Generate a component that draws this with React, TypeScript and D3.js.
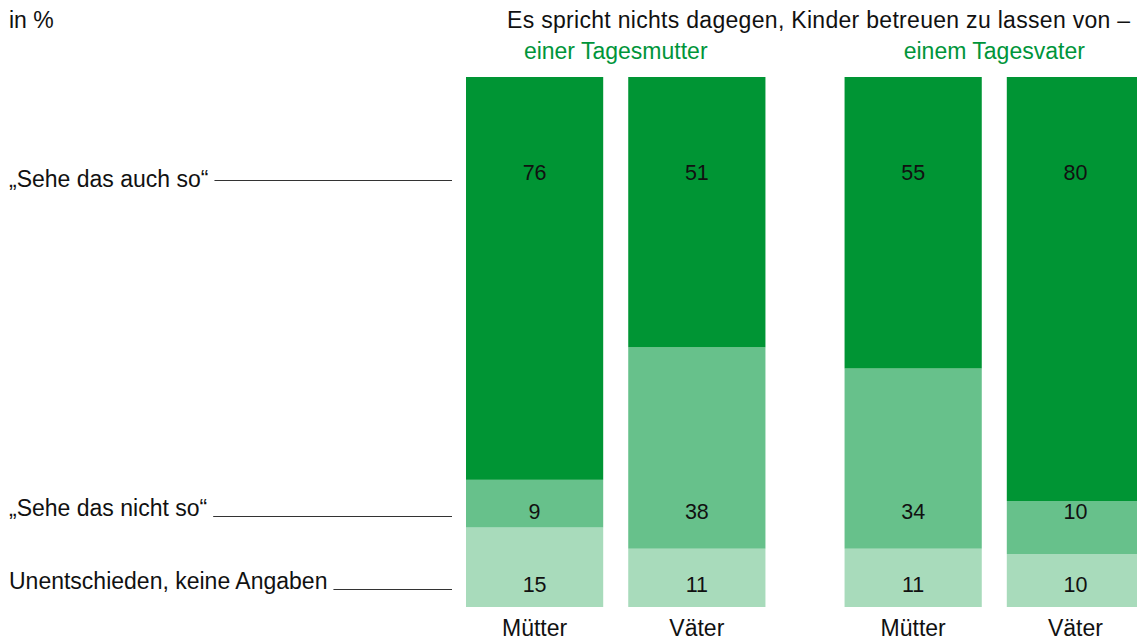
import { useEffect, useRef } from 'react';
import * as d3 from 'd3';

const groups = ['einer Tagesmutter', 'einem Tagesvater'];
const respondents = ['Mütter', 'Väter'];
const answers = ['„Sehe das auch so“', '„Sehe das nicht so“', 'Unentschieden, keine Angaben'];
const agree = [76, 51, 55, 80];
const disagree = [9, 38, 34, 10];
const undecided = [15, 11, 11, 10];

const title = 'Es spricht nichts dagegen, Kinder betreuen zu lassen von –';
const unitLabel = 'in %';

const width = 1137;
const height = 642;
const font = '"Liberation Sans", Arial, sans-serif';
const fontSize = 23;
const numSize = 21.5;

const colors = ['#009534', '#67c18b', '#a8dbbb'];
const titleGreen = '#00953a';

interface Row {
  group: string
  who: string
  agree: number
  disagree: number
  undecided: number
}

const App = (): JSX.Element => {
  const svgRef = useRef<SVGSVGElement>(null);

  useEffect(() => {
    const svg = d3.select(svgRef.current);
    svg.selectAll('*').remove();

    const rows: Row[] = agree.map((_v, i) => ({
      group: groups[Math.floor(i / 2)],
      who: respondents[i % 2],
      agree: agree[i],
      disagree: disagree[i],
      undecided: undecided[i],
    }));

    const x0 = d3.scaleBand<string>().domain(groups).range([466, 1144]).paddingInner(79 / 378);
    const x1 = d3.scaleBand<string>().domain(respondents).range([0, x0.bandwidth()]).paddingInner(25 / 162);
    const y = d3.scaleLinear().domain([0, 100]).range([607, 77]);

    const keys = ['undecided', 'disagree', 'agree'];
    const stacked = d3.stack<Row>().keys(keys)(rows);

    // answer rows: leader line y and number label baseline
    const lineY = [180, 516, 589];
    const labelBase = [187, 516, 589];
    const numBase = [180, 519, 592];

    const barX = (d: Row): number => (x0(d.group) ?? 0) + (x1(d.who) ?? 0);

    const layer = svg.append('g').selectAll('g')
      .data(stacked)
      .enter()
      .append('g')
      .attr('fill', (_d, i) => colors[2 - i]);

    layer.selectAll('rect')
      .data(d => d)
      .enter()
      .append('rect')
      .attr('x', d => barX(d.data))
      .attr('width', x1.bandwidth())
      .attr('y', d => y(d[1]))
      .attr('height', d => y(d[0]) - y(d[1]));

    // values, one row per answer
    const answerValues = [agree, disagree, undecided];
    answerValues.forEach((vals, a) => {
      svg.append('g').selectAll('text')
        .data(rows)
        .enter()
        .append('text')
        .attr('x', d => barX(d) + x1.bandwidth() / 2)
        .attr('y', numBase[a])
        .attr('text-anchor', 'middle')
        .attr('font-family', font)
        .attr('font-size', numSize)
        .attr('fill', '#111')
        .text((_d, i) => vals[i]);
    });

    // bar captions
    svg.append('g').selectAll('text')
      .data(rows)
      .enter()
      .append('text')
      .attr('x', d => barX(d) + x1.bandwidth() / 2)
      .attr('y', 636)
      .attr('text-anchor', 'middle')
      .attr('font-family', font)
      .attr('font-size', fontSize)
      .attr('fill', '#111')
      .text(d => d.who);

    // answer labels with leader lines
    answers.forEach((label, a) => {
      const t = svg.append('text')
        .attr('x', 9)
        .attr('y', labelBase[a])
        .attr('font-family', font)
        .attr('font-size', fontSize)
        .attr('fill', '#111')
        .text(label);
      const node = t.node() as SVGTextElement;
      const end = 9 + node.getComputedTextLength() + 6;
      svg.append('line')
        .attr('x1', end)
        .attr('x2', 452)
        .attr('y1', lineY[a] + 0.5)
        .attr('y2', lineY[a] + 0.5)
        .attr('stroke', '#333')
        .attr('stroke-width', 1);
    });

    svg.append('text')
      .attr('x', 9)
      .attr('y', 28)
      .attr('font-family', font)
      .attr('font-size', fontSize)
      .attr('fill', '#111')
      .text(unitLabel);

    svg.append('text')
      .attr('x', 507)
      .attr('y', 28)
      .attr('font-family', font)
      .attr('font-size', fontSize)
      .attr('letter-spacing', 0.3)
      .attr('fill', '#111')
      .text(title);

    svg.append('g').selectAll('text')
      .data(groups)
      .enter()
      .append('text')
      .attr('x', d => (x0(d) ?? 0) + x0.bandwidth() / 2)
      .attr('y', 59)
      .attr('text-anchor', 'middle')
      .attr('font-family', font)
      .attr('font-size', fontSize)
      .attr('fill', titleGreen)
      .text(d => d);
  }, []);

  return (
    <svg
      ref={svgRef}
      width={width}
      height={height}
      style={{ position: 'absolute', left: 0, top: 0, background: '#fff' }}
    />
  );
};

export default App;
